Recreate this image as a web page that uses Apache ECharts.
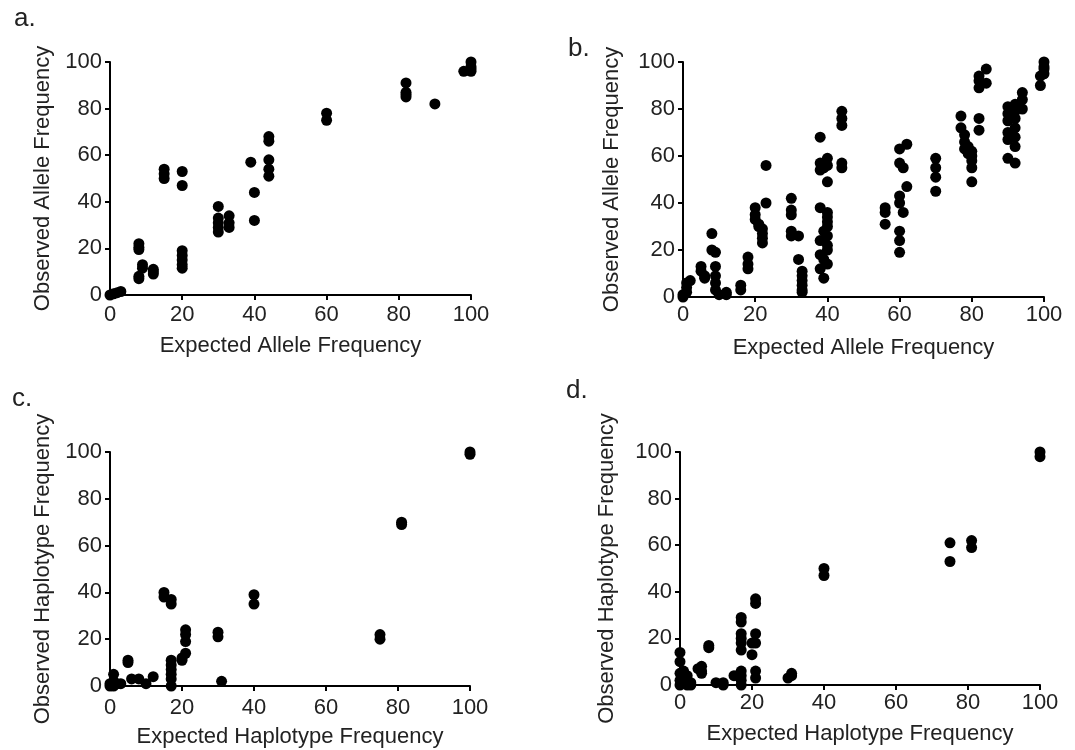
<!DOCTYPE html>
<html><head><meta charset="utf-8">
<script src="https://cdn.jsdelivr.net/npm/echarts@6/dist/echarts.min.js"></script>
<style>html,body{margin:0;padding:0;background:#fff}#c{width:1075px;height:750px}</style>
</head><body><div id="c"></div><script>
const tickValues = [0, 20, 40, 60, 80, 100];
const panelLetters = ['a.', 'b.', 'c.', 'd.'];
const xNames = ['Expected Allele Frequency', 'Expected Allele Frequency', 'Expected Haplotype Frequency', 'Expected Haplotype Frequency'];
const yNames = ['Observed Allele Frequency', 'Observed Allele Frequency', 'Observed Haplotype Frequency', 'Observed Haplotype Frequency'];

const panelA = [
  [0,0],[1,0.5],[2,1],[3,1.5],
  [8,22],[8,20.5],[8,19.5],[8,8],[8,7],[9,13],[9,11.5],[12,11],[12,10],[12,9],
  [15,54],[15,52],[15,50],
  [20,53],[20,47],[20,19],[20,17],[20,15],[20,13],[20,11.5],
  [30,38],[30,33],[30,31],[30,29],[30,27],
  [33,34],[33,31],[33,29],
  [39,57],[40,44],[40,32],
  [44,68],[44,66],[44,58],[44,54],[44,51],
  [60,78],[60,75],
  [82,91],[82,87],[82,86],[82,85],
  [90,82],
  [98,96],[100,100],[100,98],[100,97],[100,96]
];
const panelB = [
  [0,0],[0,1],[1,2],[1,4],[1,6],[2,7],
  [5,13],[5,11],[6,9],[6,8],
  [8,27],[8,20],[9,19],[9,13],[9,9],[9,6],[9,3],[10,1],
  [12,2],[12,1],
  [16,5],[16,3],
  [18,17],[18,14],[18,12],
  [20,38],[20,35],[20,33],[21,31],[21,30],
  [23,56],[23,40],[22,29],[22,27],[22,25],[22,23],
  [30,42],[30,37],[30,35],[30,28],[30,26],[32,26],
  [32,16],[33,11],[33,9],[33,7],[33,5],[33,3],[33,2],
  [38,68],[38,57],[38,54],[38,38],[38,24],[38,18],[38,12],[39,55],[39,28],[39,16],[39,8],
  [40,59],[40,56],[40,49],[40,36],[40,34],[40,32],[40,30],[40,26],[40,22],[40,20],[40,14],
  [44,79],[44,76],[44,73],[44,57],[44,55],
  [56,38],[56,36],[56,31],
  [60,63],[62,65],[60,57],[61,55],[62,47],[60,43],[60,40],[61,36],[60,28],[60,24],[60,19],
  [70,59],[70,55],[70,51],[70,45],
  [77,77],[77,72],[78,69],[78,66],[78,63],[79,64],[79,61],[80,62],[80,60],[80,58],[80,55],[80,49],
  [82,94],[82,92],[82,89],[84,97],[84,91],[82,76],[82,71],
  [90,81],[90,78],[90,75],[90,70],[90,67],[90,59],[92,82],[92,79],[92,76],[92,72],[92,68],[92,64],[92,57],[94,87],[94,84],[94,80],
  [99,94],[99,90],[100,100],[100,98],[100,97],[100,95]
];
const panelC = [
  [0,0],[0,1],[1,0],[1,2],[1,5],[2,1],[3,1],
  [5,11],[5,10],
  [6,3],[8,3],[10,1],[12,4],
  [15,40],[15,38],[17,37],[17,35],
  [17,11],[17,9],[17,7],[17,5],[17,3],[17,0],
  [20,11],[20,12],[21,14],[21,24],[21,22],[21,19],
  [30,23],[30,21],[31,2],
  [40,39],[40,35],
  [75,22],[75,20],
  [81,70],[81,69],
  [100,100],[100,99]
];
const panelD = [
  [0,14],[0,10],[0,5],[0,2],[0,0],[1,6],[1,3],[1,1],[2,4],[2,2],[2,0],[3,1],[3,0],
  [5,7],[6,8],[6,6],[6,5],
  [8,17],[8,16],
  [10,1],[12,1],[12,0],
  [15,4],[16,4],[17,6],[17,4],[17,2],[17,0],
  [17,29],[17,27],[17,22],[17,20],[17,18],[17,15],
  [20,13],[20,18],[21,22],[21,18],[21,37],[21,35],[21,6],[21,3],
  [30,3],[31,4],[31,5],
  [40,50],[40,47],
  [75,61],[75,53],
  [81,62],[81,59],
  [100,100],[100,98]
];
const panels = [panelA, panelB, panelC, panelD];

const grids = [
  {left: 110, top: 62, width: 361, height: 233},
  {left: 683, top: 62, width: 361, height: 235},
  {left: 110, top: 452, width: 360, height: 234},
  {left: 680, top: 452, width: 360, height: 233}
];
const xLabelMargin = [9, 7, 11, 7];
const xNameGap = [40, 40, 40, 38];
const yNameGap = [56, 60, 56, 62];
const letterPos = [[14, 6], [568, 36], [12, 386], [566, 378]];

const fontFam = 'Liberation Sans, Arial, sans-serif';
const txtColor = '#222';

const option = {
  backgroundColor: '#fff',
  animation: false,
  grid: grids.map(g => Object.assign({containLabel: false}, g)),
  xAxis: grids.map((g, i) => ({
    type: 'value', gridIndex: i, min: 0, max: 100, interval: 20,
    name: xNames[i], nameLocation: 'middle', nameGap: xNameGap[i],
    nameTextStyle: {fontSize: 22, color: txtColor, fontFamily: fontFam},
    axisLine: {show: true, onZero: false, lineStyle: {color: '#000', width: 2}},
    axisTick: {show: true, length: 5, lineStyle: {color: '#000', width: 2}},
    axisLabel: {fontSize: 22, color: txtColor, fontFamily: fontFam, margin: xLabelMargin[i],
      formatter: v => tickValues.includes(v) ? String(v) : ''},
    splitLine: {show: false}
  })),
  yAxis: grids.map((g, i) => ({
    type: 'value', gridIndex: i, min: 0, max: 100, interval: 20,
    name: yNames[i], nameLocation: 'middle', nameGap: yNameGap[i], nameRotate: 90,
    nameTextStyle: {fontSize: 22, color: txtColor, fontFamily: fontFam},
    axisLine: {show: true, onZero: false, lineStyle: {color: '#000', width: 2}},
    axisTick: {show: true, length: 5, lineStyle: {color: '#000', width: 2}},
    axisLabel: {fontSize: 22, color: txtColor, fontFamily: fontFam, margin: 8,
      formatter: v => tickValues.includes(v) ? String(v) : ''},
    splitLine: {show: false}
  })),
  graphic: panelLetters.map((t, i) => ({
    type: 'text', left: letterPos[i][0], top: letterPos[i][1],
    style: {text: t, fontSize: 26, fill: txtColor, fontFamily: fontFam}
  })),
  series: panels.map((d, i) => ({
    type: 'scatter', xAxisIndex: i, yAxisIndex: i, data: d,
    symbol: 'circle', symbolSize: 11, clip: false,
    itemStyle: {color: '#000', opacity: 1}
  }))
};
const chart = echarts.init(document.getElementById('c'));
chart.setOption(option);
</script></body></html>
